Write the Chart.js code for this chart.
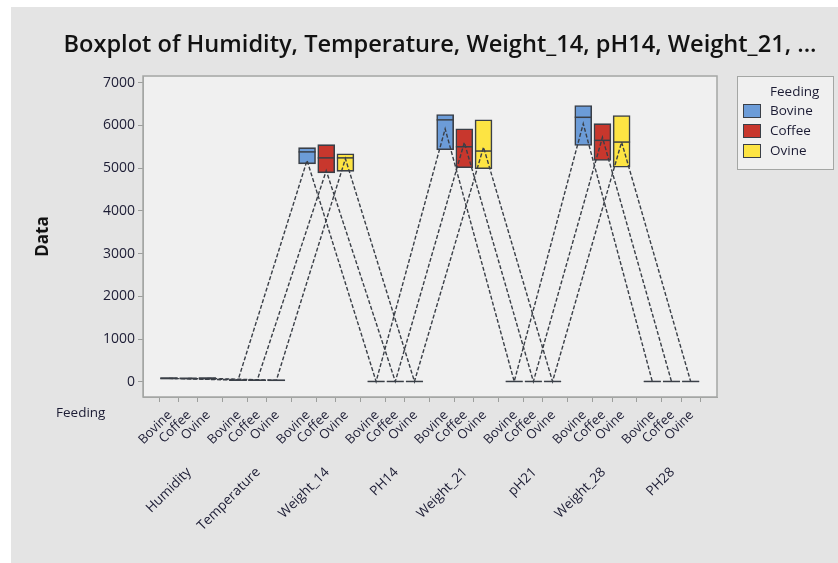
<!DOCTYPE html>
<html>
<head>
<meta charset="utf-8">
<script src="https://cdn.jsdelivr.net/npm/chart.js@4.4.1/dist/chart.umd.min.js"></script>
<style>
html, body { margin: 0; padding: 0; background: #fff; }
</style>
</head>
<body>
<canvas id="boxChart" width="838" height="563"></canvas>
<script>
// variables measured, in the order Minitab lays them out
const variables = ['Humidity', 'Temperature', 'Weight_14', 'PH14', 'Weight_21', 'pH21', 'Weight_28', 'PH28'];
const feeding = ['Bovine', 'Coffee', 'Ovine'];
const yTickValues = [0, 1000, 2000, 3000, 4000, 5000, 6000, 7000];

// box bottom (Q1), median, box top (Q3) and mean, one value per variable
const bovineQ1 = [62, 26, 5100, 6.2, 5430, 6.2, 5530, 6.3];
const bovineMedian = [80, 36, 5380, 6.5, 6130, 6.5, 6190, 6.6];
const bovineQ3 = [96, 46, 5480, 6.8, 6255, 6.8, 6465, 6.9];
const bovineMean = [80, 36, 5180, 6.5, 5920, 6.5, 6040, 6.6];

const coffeeQ1 = [60, 25, 4890, 6.1, 5010, 6.2, 5180, 6.2];
const coffeeMedian = [78, 35, 5240, 6.4, 5500, 6.5, 5650, 6.5];
const coffeeQ3 = [94, 45, 5550, 6.7, 5920, 6.8, 6040, 6.8];
const coffeeMean = [78, 35, 4940, 6.4, 5600, 6.5, 5720, 6.5];

const ovineQ1 = [62, 24, 4925, 6.2, 4985, 6.3, 5020, 6.3];
const ovineMedian = [79, 34, 5240, 6.5, 5400, 6.6, 5610, 6.6];
const ovineQ3 = [95, 44, 5335, 6.8, 6130, 6.9, 6230, 6.9];
const ovineMean = [79, 34, 5220, 6.5, 5490, 6.6, 5610, 6.6];

const boxColors = ['#6c9cd8', '#c8372d', '#fde443'];
const lineColor = '#3a3f47';
const fontFamily = "'Open Sans', 'Noto Sans', sans-serif";
const textColor = '#1c1c34';

// x position of a box: groups of three, with a gap between variables
const groupStep = 3.6;
function xPos(varIndex, feedIndex) {
    return varIndex * groupStep + feedIndex;
}

const groupStats = [
    { q1: bovineQ1, median: bovineMedian, q3: bovineQ3, mean: bovineMean },
    { q1: coffeeQ1, median: coffeeMedian, q3: coffeeQ3, mean: coffeeMean },
    { q1: ovineQ1, median: ovineMedian, q3: ovineQ3, mean: ovineMean }
];

const datasets = [];
groupStats.forEach((stats, k) => {
    // the boxes
    datasets.push({
        type: 'bar',
        label: feeding[k],
        data: variables.map((v, g) => ({ x: xPos(g, k), y: [stats.q1[g], stats.q3[g]] })),
        backgroundColor: boxColors[k],
        borderColor: lineColor,
        borderWidth: 1.6,
        borderSkipped: false,
        barThickness: 17,
        grouped: false,
        order: 3
    });
    // median bar across the box
    datasets.push({
        type: 'scatter',
        label: feeding[k] + ' median',
        data: variables.map((v, g) => ({ x: xPos(g, k), y: stats.median[g] })),
        pointStyle: 'line',
        pointRadius: 8.5,
        pointBorderWidth: 1.5,
        borderColor: lineColor,
        order: 2
    });
    // mean connect line
    datasets.push({
        type: 'line',
        label: feeding[k] + ' mean',
        data: variables.map((v, g) => ({ x: xPos(g, k), y: stats.mean[g] })),
        borderColor: lineColor,
        borderWidth: 1.4,
        borderDash: [4, 2],
        pointRadius: 0,
        fill: false,
        tension: 0,
        order: 1
    });
});

const boxTicks = [];
variables.forEach((v, g) => feeding.forEach((f, k) => boxTicks.push(xPos(g, k))));

function rotatedText(ctx, text, x, y) {
    ctx.save();
    ctx.translate(x, y);
    ctx.rotate(-Math.PI / 4);
    ctx.textAlign = 'right';
    ctx.textBaseline = 'middle';
    ctx.fillText(text, 0, 0);
    ctx.restore();
}

// background, plot frame, two-level x labels and the legend box
const frame = {
    id: 'frame',
    beforeDraw(chart) {
        const ctx = chart.ctx;
        const a = chart.chartArea;
        ctx.save();
        ctx.fillStyle = '#ffffff';
        ctx.fillRect(0, 0, chart.width, chart.height);
        ctx.fillStyle = '#e4e4e4';
        ctx.fillRect(11, 7, chart.width - 11, chart.height - 7);
        ctx.fillStyle = '#f0f0f0';
        ctx.fillRect(a.left, a.top, a.right - a.left, a.bottom - a.top);
        ctx.restore();
    },
    afterDraw(chart) {
        const ctx = chart.ctx;
        const a = chart.chartArea;
        const xs = chart.scales.x;
        ctx.save();
        ctx.strokeStyle = '#a4a6a4';
        ctx.lineWidth = 1.5;
        ctx.strokeRect(a.left, a.top, a.right - a.left, a.bottom - a.top);

        // feeding and variable labels under the axis
        ctx.fillStyle = textColor;
        ctx.font = '13px ' + fontFamily;
        variables.forEach((v, g) => feeding.forEach((f, k) => {
            rotatedText(ctx, f, xs.getPixelForValue(xPos(g, k)) + 1, a.bottom + 16);
        }));
        ctx.font = '13.5px ' + fontFamily;
        variables.forEach((v, g) => {
            rotatedText(ctx, v, xs.getPixelForValue(xPos(g, 1)) + 1, a.bottom + 73);
        });

        ctx.textBaseline = 'middle';
        ctx.fillText('Feeding', 56, 413);

        // legend
        ctx.fillStyle = '#f0f0f0';
        ctx.fillRect(737, 76, 97, 94);
        ctx.strokeStyle = '#a4a6a4';
        ctx.lineWidth = 1;
        ctx.strokeRect(737.5, 76.5, 96, 93);
        ctx.fillStyle = textColor;
        ctx.fillText('Feeding', 770, 92);
        feeding.forEach((name, k) => {
            const y = 111 + k * 20;
            ctx.fillStyle = boxColors[k];
            ctx.fillRect(743, y - 7, 18, 14);
            ctx.strokeStyle = lineColor;
            ctx.strokeRect(743.5, y - 6.5, 17, 13);
            ctx.fillStyle = textColor;
            ctx.fillText(name, 770, y);
        });
        ctx.restore();
    }
};

new Chart(document.getElementById('boxChart'), {
    type: 'bar',
    data: { datasets: datasets },
    options: {
        responsive: false,
        animation: false,
        layout: { padding: { left: 42, right: 0, top: 0, bottom: 21 } },
        plugins: {
            legend: { display: false },
            tooltip: { enabled: false },
            title: {
                display: true,
                text: 'Boxplot of Humidity, Temperature, Weight_14, pH14, Weight_21, ...',
                color: '#121212',
                font: { family: fontFamily, size: 23.6, weight: '600' },
                padding: { top: 31, bottom: 16.7 }
            }
        },
        scales: {
            x: {
                type: 'linear',
                position: 'bottom',
                min: -0.73,
                max: 27.95,
                afterBuildTicks: s => { s.ticks = boxTicks.map(v => ({ value: v })); },
                afterFit: s => { s.height = 145; },
                grid: { drawOnChartArea: false, color: '#9c9e9c', tickLength: 5 },
                border: { color: '#a4a6a4' },
                ticks: { display: false }
            },
            y: {
                type: 'linear',
                min: -357,
                max: 7156,
                afterBuildTicks: s => { s.ticks = yTickValues.map(v => ({ value: v })); },
                afterFit: s => { s.width = 101; },
                grid: { drawOnChartArea: false, color: '#9c9e9c', tickLength: 5 },
                border: { color: '#a4a6a4' },
                ticks: {
                    padding: 3,
                    color: textColor,
                    font: { family: fontFamily, size: 14 },
                    callback: value => String(value)
                },
                title: {
                    display: true,
                    text: 'Data',
                    color: '#121212',
                    font: { family: fontFamily, size: 17, weight: 'bold' },
                    padding: { top: -9 }
                }
            },
            // empty axis that keeps room for the legend on the right
            legendRoom: {
                type: 'linear',
                position: 'right',
                min: 0,
                max: 1,
                afterFit: s => { s.width = 121; },
                grid: { display: false },
                border: { display: false },
                ticks: { display: false }
            }
        }
    },
    plugins: [frame]
});
</script>
</body>
</html>
